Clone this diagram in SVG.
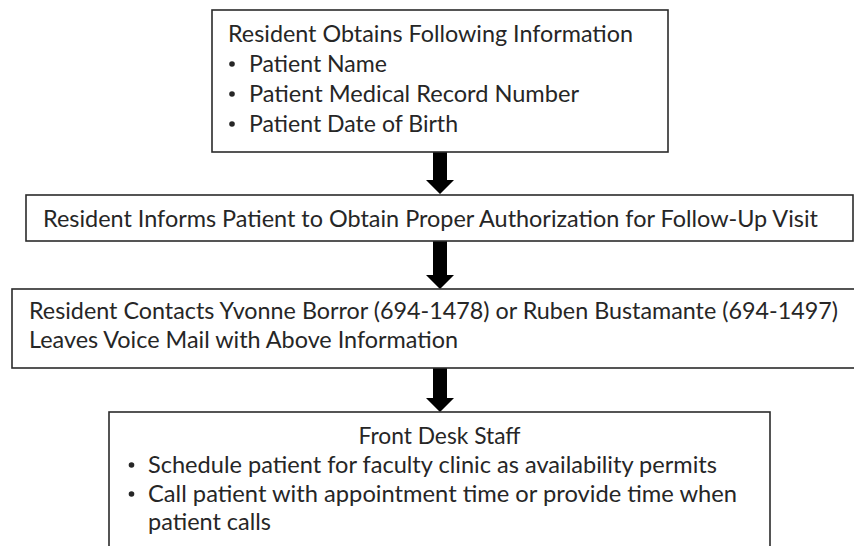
<svg xmlns="http://www.w3.org/2000/svg" width="854" height="546" viewBox="0 0 854 546">
  <style>
    .box { fill: #ffffff; stroke: #2b2b2b; stroke-width: 1.6; }
    .txt { font-family: Lato, "Open Sans", "Liberation Sans", sans-serif; font-size: 23px; fill: #262626; }
    .dot { fill: #262626; }
    .arrow { fill: #000000; }
  </style>
  <rect x="0" y="0" width="854" height="546" fill="#ffffff"/>

  <!-- connectors: thick block arrows between steps -->
  <g id="connectors">
    <path class="arrow" d="M433,152 H447 V180 H454 L440,194 L426,180 H433 Z"/>
    <path class="arrow" d="M433,241 H447 V275 H454 L440,289 L426,275 H433 Z"/>
    <path class="arrow" d="M433,368 H447 V398 H454 L440,412 L426,398 H433 Z"/>
  </g>

  <!-- step 1 -->
  <g id="obtain-info">
    <rect class="box" x="212" y="10" width="456" height="142"/>
    <text class="txt" x="228" y="42" textLength="405" lengthAdjust="spacingAndGlyphs">Resident Obtains Following Information</text>
    <circle class="dot" cx="232" cy="64" r="2.8"/>
    <text class="txt" x="249" y="72" textLength="138" lengthAdjust="spacingAndGlyphs">Patient Name</text>
    <circle class="dot" cx="232" cy="94" r="2.8"/>
    <text class="txt" x="249" y="102" textLength="330" lengthAdjust="spacingAndGlyphs">Patient Medical Record Number</text>
    <circle class="dot" cx="232" cy="124" r="2.8"/>
    <text class="txt" x="249" y="132" textLength="209" lengthAdjust="spacingAndGlyphs">Patient Date of Birth</text>
  </g>

  <!-- step 2 -->
  <g id="inform-patient">
    <rect class="box" x="26" y="195" width="827" height="46"/>
    <text class="txt" x="43" y="227" textLength="775" lengthAdjust="spacingAndGlyphs">Resident Informs Patient to Obtain Proper Authorization for Follow-Up Visit</text>
  </g>

  <!-- step 3 -->
  <g id="contact-staff">
    <rect class="box" x="12" y="289" width="850" height="79"/>
    <text class="txt" x="29" y="319" textLength="809" lengthAdjust="spacingAndGlyphs">Resident Contacts Yvonne Borror (694-1478) or Ruben Bustamante (694-1497)</text>
    <text class="txt" x="29" y="348" textLength="429" lengthAdjust="spacingAndGlyphs">Leaves Voice Mail with Above Information</text>
  </g>

  <!-- step 4 -->
  <g id="front-desk">
    <rect class="box" x="109" y="412" width="661" height="150"/>
    <text class="txt" x="439.5" y="444" text-anchor="middle" textLength="162" lengthAdjust="spacingAndGlyphs">Front Desk Staff</text>
    <circle class="dot" cx="131.5" cy="465" r="2.8"/>
    <text class="txt" x="148" y="473" textLength="569" lengthAdjust="spacingAndGlyphs">Schedule patient for faculty clinic as availability permits</text>
    <circle class="dot" cx="131.5" cy="494" r="2.8"/>
    <text class="txt" x="148" y="502" textLength="589" lengthAdjust="spacingAndGlyphs">Call patient with appointment time or provide time when</text>
    <text class="txt" x="148" y="530" textLength="123" lengthAdjust="spacingAndGlyphs">patient calls</text>
  </g>
</svg>
